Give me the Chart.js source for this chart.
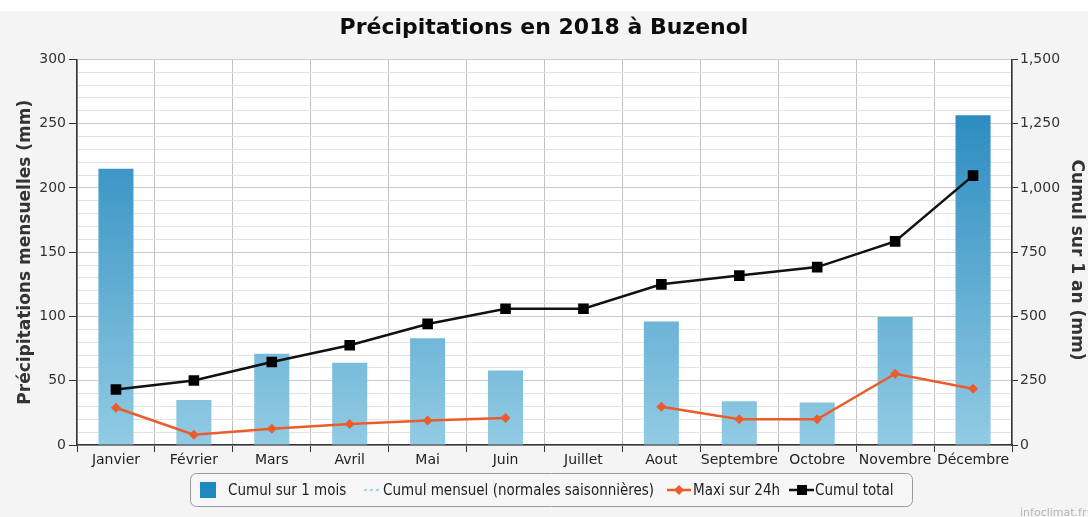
<!DOCTYPE html>
<html lang="fr">
<head>
<meta charset="utf-8">
<title>Précipitations en 2018 à Buzenol</title>
<script src="https://cdn.jsdelivr.net/npm/chart.js@4.4.1/dist/chart.umd.min.js"></script>
<style>
  html, body { margin: 0; padding: 0; background: #f4f4f4; }
  canvas { display: block; }
</style>
</head>
<body>
<canvas id="pluieChart" width="1088" height="517"></canvas>
<script>
// précipitations mensuelles 2018 (mm)
const mois = ['Janvier', 'Février', 'Mars', 'Avril', 'Mai', 'Juin', 'Juillet', 'Aout', 'Septembre', 'Octobre', 'Novembre', 'Décembre'];
const cumulMois = [215, 35, 71, 64, 83, 58, 0, 96, 34, 33, 99.5, 256.5];
const normales = [null, null, null, null, null, null, null, null, null, null, null, null];
const maxi24h = [29, 8, 12.7, 16.3, 19, 21, null, 29.8, 20, 20, 55.4, 43.8];
const cumulTotal = [216, 251, 323, 388, 471, 530, 530, 625, 659, 692, 792, 1048];

const legendeTextes = ['Cumul sur 1 mois', 'Cumul mensuel (normales saisonnières)', 'Maxi sur 24h', 'Cumul total'];

Chart.defaults.font.family = "'DejaVu Sans', Verdana, sans-serif";
Chart.defaults.color = '#2a2a2a';

function barGradient(ctx) {
  const area = ctx.chart.chartArea;
  if (!area) return '#4fa6d0';
  const g = ctx.chart.ctx.createLinearGradient(0, area.top, 0, area.bottom);
  g.addColorStop(0, '#1b82ba');
  g.addColorStop(1, '#92cbe4');
  return g;
}

// fond gris, bandeau blanc en haut et zone de tracé blanche
const fond = {
  id: 'fond',
  beforeDraw(chart) {
    const { ctx, width, height, chartArea: a } = chart;
    ctx.save();
    ctx.fillStyle = '#f4f4f4';
    ctx.fillRect(0, 0, width, height);
    ctx.fillStyle = '#ffffff';
    ctx.fillRect(0, 0, width, 11);
    ctx.fillRect(a.left, a.top, a.right - a.left, a.bottom - a.top);
    ctx.restore();
  }
};

// titre de l'axe de droite, un peu plus bas que le centre
const titreDroite = {
  id: 'titreDroite',
  afterDraw(chart) {
    const ctx = chart.ctx;
    ctx.save();
    ctx.translate(1076, 260);
    ctx.rotate(Math.PI / 2);
    ctx.fillStyle = '#333';
    ctx.font = "bold 17px 'DejaVu Sans', sans-serif";
    ctx.textAlign = 'center';
    ctx.textBaseline = 'middle';
    ctx.fillText('Cumul sur 1 an (mm)', 0, 0);
    ctx.restore();
  }
};

// légende dessinée à la main sous le graphique
const legende = {
  id: 'legende',
  afterDraw(chart) {
    const ctx = chart.ctx;
    const y = 490;
    ctx.save();
    ctx.beginPath();
    ctx.roundRect(190.5, 473.5, 722, 33, 6);
    ctx.fillStyle = '#f6f6f6';
    ctx.fill();
    ctx.strokeStyle = '#9a9a9a';
    ctx.lineWidth = 1;
    ctx.stroke();

    // carré bleu
    ctx.fillStyle = '#1d87bf';
    ctx.fillRect(200, 482, 16, 16);

    // tirets normales
    ctx.beginPath();
    ctx.setLineDash([3, 3]);
    ctx.strokeStyle = '#86c6e6';
    ctx.lineWidth = 1.5;
    ctx.moveTo(364, y);
    ctx.lineTo(380, y);
    ctx.stroke();
    ctx.setLineDash([]);

    // ligne orange + losange
    ctx.beginPath();
    ctx.strokeStyle = '#ea5d2b';
    ctx.lineWidth = 2.5;
    ctx.moveTo(667, y);
    ctx.lineTo(691, y);
    ctx.stroke();
    ctx.beginPath();
    ctx.fillStyle = '#ea5d2b';
    ctx.moveTo(679, y - 5);
    ctx.lineTo(684, y);
    ctx.lineTo(679, y + 5);
    ctx.lineTo(674, y);
    ctx.closePath();
    ctx.fill();

    // ligne noire + carré
    ctx.beginPath();
    ctx.strokeStyle = '#111';
    ctx.lineWidth = 2.5;
    ctx.moveTo(789, y);
    ctx.lineTo(814, y);
    ctx.stroke();
    ctx.fillStyle = '#000';
    ctx.fillRect(797, y - 5, 10, 10);

    ctx.fillStyle = '#222';
    ctx.font = "15px 'DejaVu Sans Condensed', 'DejaVu Sans', sans-serif";
    ctx.textBaseline = 'middle';
    ctx.fillText(legendeTextes[0], 228, y + 1, 133);
    ctx.fillText(legendeTextes[1], 383, y + 1, 308);
    ctx.fillText(legendeTextes[2], 693, y + 1, 97);
    ctx.fillText(legendeTextes[3], 815, y + 1, 94);

    ctx.fillStyle = '#b5b5b5';
    ctx.font = "11px 'DejaVu Sans', sans-serif";
    ctx.textBaseline = 'alphabetic';
    ctx.fillText('infoclimat.fr', 1020, 516);
    ctx.restore();
  }
};

new Chart(document.getElementById('pluieChart'), {
  data: {
    labels: mois,
    datasets: [
      {
        type: 'line',
        label: legendeTextes[3],
        data: cumulTotal,
        yAxisID: 'y1',
        borderColor: '#111',
        borderWidth: 2.5,
        pointStyle: 'rect',
        pointRadius: 7.5,
        pointBackgroundColor: '#000',
        pointBorderWidth: 0,
        tension: 0,
        order: 1
      },
      {
        type: 'line',
        label: legendeTextes[2],
        data: maxi24h,
        yAxisID: 'y',
        borderColor: '#ea5d2b',
        borderWidth: 2.5,
        pointStyle: 'rectRot',
        pointRadius: 5,
        pointBackgroundColor: '#ea5d2b',
        pointBorderWidth: 0,
        spanGaps: false,
        tension: 0,
        order: 2
      },
      {
        type: 'line',
        label: legendeTextes[1],
        data: normales,
        yAxisID: 'y',
        borderColor: '#86c6e6',
        borderDash: [3, 3],
        borderWidth: 1.5,
        pointRadius: 0,
        order: 3
      },
      {
        type: 'bar',
        label: legendeTextes[0],
        data: cumulMois,
        yAxisID: 'y',
        backgroundColor: barGradient,
        barPercentage: 0.45,
        categoryPercentage: 1,
        order: 4
      }
    ]
  },
  options: {
    responsive: false,
    animation: false,
    layout: { padding: { bottom: 44 } },
    plugins: {
      legend: { display: false },
      tooltip: { enabled: false },
      title: {
        display: true,
        text: 'Précipitations en 2018 à Buzenol',
        color: '#0d0d0d',
        font: { size: 22, weight: 'bold' },
        padding: { top: 15, bottom: 18 }
      }
    },
    scales: {
      x: {
        offset: true,
        afterFit(scale) { scale.height = 28; },
        grid: { offset: true, color: '#c2c2c2', tickColor: '#333', tickLength: 7 },
        border: { color: '#333', width: 1.5 },
        ticks: { font: { size: 14 }, color: '#222', padding: 0, maxRotation: 0, autoSkip: false }
      },
      y: {
        position: 'left',
        min: 0,
        max: 300,
        afterFit(scale) { scale.width = 77; },
        grid: {
          color: (c) => (c.tick && c.tick.value % 50 === 0 ? '#cdcdcd' : '#e3e3e3'),
          tickColor: (c) => (c.tick && c.tick.value % 50 === 0 ? '#333' : 'rgba(0,0,0,0)'),
          tickLength: 8
        },
        border: { color: '#333', width: 1.5 },
        ticks: {
          stepSize: 10,
          autoSkip: false,
          font: { size: 14 },
          color: '#333',
          padding: 3,
          callback: (v) => (v % 50 === 0 ? v : '')
        },
        title: {
          display: true,
          text: 'Précipitations mensuelles (mm)',
          color: '#333',
          font: { size: 17, weight: 'bold' },
          padding: { top: 15, bottom: 0 }
        }
      },
      y1: {
        position: 'right',
        min: 0,
        max: 1500,
        afterFit(scale) { scale.width = 76; },
        grid: { drawOnChartArea: false, tickColor: '#333', tickLength: 6 },
        border: { color: '#333', width: 1.5 },
        ticks: {
          stepSize: 250,
          font: { size: 14 },
          color: '#333',
          padding: 2,
          callback: (v) => v.toLocaleString('en-US')
        }
      }
    }
  },
  plugins: [fond, titreDroite, legende]
});
</script>
</body>
</html>
